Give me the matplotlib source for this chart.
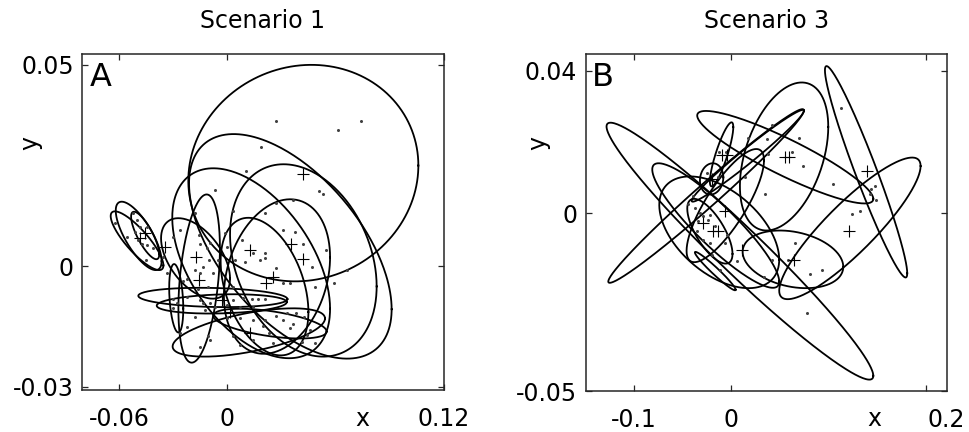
import matplotlib
matplotlib.use("Agg")
import matplotlib.pyplot as plt
import matplotlib.transforms as mtransforms
import numpy as np

plt.rcParams['font.family'] = ['DejaVu Sans']

# ---- Scenario 1 (panel A) ----
# ellipses: centre x, centre y, sd x, sd y, correlation
a_cx = [0.0421, 0.0349, 0.0132, 0.0421, 0.0275, 0.0206, -0.0156, -0.0176, -0.0283,
        -0.0491, -0.0500, -0.0455, -0.0080, -0.0031, 0.0119, 0.0236]
a_cy = [0.0231, 0.0049, 0.0007, 0.0014, -0.0026, -0.0051, -0.0031, 0.0019, -0.0080,
        0.0075, 0.0063, 0.0076, -0.0078, -0.0094, -0.0165, -0.0143]
a_sx = [0.0637, 0.0561, 0.0437, 0.0406, 0.0294, 0.0243, 0.0115, 0.0191, 0.0039,
        0.0127, 0.0146, 0.0078, 0.0413, 0.0360, 0.0422, 0.0314]
a_sy = [0.0269, 0.0279, 0.0236, 0.0239, 0.0192, 0.0171, 0.0209, 0.0100, 0.0085,
        0.0085, 0.0073, 0.0059, 0.0024, 0.0024, 0.0060, 0.0037]
a_rho = [0.07, -0.56, -0.48, -0.27, 0.25, -0.37, 0.36, -0.5, -0.3,
         -0.74, -0.84, -0.79, -0.17, 0.18, 0.58, -0.53]

# component means
a_mx = [0.0421, -0.0456, -0.0345, -0.0484, -0.0174, -0.0157, 0.0126, 0.0351, 0.0421,
        0.0251, 0.0212, 0.0015, -0.0031, 0.0126]
a_my = [0.0229, 0.0081, 0.0048, 0.0069, 0.0023, -0.0035, 0.0040, 0.0056, 0.0017,
        -0.0027, -0.0041, -0.0114, -0.0085, -0.0166]

# observations
a_px = [0.0270, 0.0615, 0.0741, 0.0187, 0.0103, -0.0068, 0.0510, 0.0528, 0.0270, 0.0362,
        0.0209, 0.0033, -0.0179, -0.0622, -0.0521, -0.0502, -0.0484, -0.0558, -0.0512, -0.0447,
        -0.0493, -0.0475, -0.0447, -0.0410, -0.0453, -0.0355, -0.0262, -0.0299, -0.0151, -0.0096,
        -0.0115, -0.0155, -0.0013, -0.0004, 0.0079, 0.0209, 0.0209, 0.0144, 0.0310, 0.0375,
        0.0417, 0.0547, 0.0467, 0.0661, 0.0593, 0.0486, 0.0347, 0.0307, 0.0270, 0.0181,
        0.0098, 0.0042, -0.0050, -0.0100, -0.0133, -0.0179, -0.0225, -0.0247, -0.0151, -0.0161,
        -0.0105, -0.0299, -0.0281, -0.0151, -0.0133, -0.0096, -0.0124, -0.0299, -0.0068, -0.0004,
        0.0033, 0.0085, 0.0135, 0.0172, 0.0209, 0.0070, 0.0144, -0.0179, -0.0004, 0.0070,
        0.0144, 0.0209, 0.0270, 0.0329, 0.0380, 0.0425, 0.0310, 0.0366, 0.0199, 0.0033,
        0.0233, 0.0347, 0.0458, 0.0440, -0.0105, -0.0096, 0.0144, 0.0255, 0.0412, 0.0486,
        0.0070, -0.0151, -0.0225, -0.0262, -0.0336, -0.0225, 0.0033, -0.0078]
a_py = [0.0361, 0.0337, 0.0361, 0.0295, 0.0237, 0.0189, 0.0187, 0.0179, 0.0156, 0.0164,
        0.0131, 0.0138, 0.0133, 0.0106, 0.0131, 0.0114, 0.0098, 0.0073, 0.0085, 0.0098,
        0.0065, 0.0056, 0.0052, 0.0044, 0.0015, 0.0023, 0.0090, 0.0073, 0.0056, 0.0058,
        0.0044, 0.0077, 0.0081, 0.0048, 0.0065, 0.0032, 0.0019, 0.0032, 0.0090, 0.0085,
        0.0055, 0.0040, -0.0002, -0.0010, -0.0041, -0.0051, -0.0041, -0.0041, -0.0004, 0.0015,
        0.0011, 0.0015, 0.0015, 0.0015, -0.0002, -0.0010, -0.0031, -0.0036, -0.0018, -0.0056,
        -0.0051, -0.0083, -0.0093, -0.0085, -0.0093, -0.0093, -0.0109, -0.0105, -0.0101, -0.0097,
        -0.0085, -0.0080, -0.0083, -0.0083, -0.0083, -0.0101, -0.0101, -0.0126, -0.0130, -0.0130,
        -0.0134, -0.0133, -0.0124, -0.0116, -0.0116, -0.0126, -0.0134, -0.0143, -0.0149, -0.0174,
        -0.0167, -0.0155, -0.0159, -0.0172, -0.0174, -0.0184, -0.0184, -0.0191, -0.0188, -0.0192,
        -0.0196, -0.0201, -0.0151, -0.0167, -0.0018, -0.0076, -0.0051, -0.0018]

# ---- Scenario 3 (panel B) ----
b_cx = [0.0087, -0.0161, -0.0125, -0.0260, 0.0168, 0.0540, 0.0552, 0.1381, 0.1215,
        0.0631, -0.0063, -0.0203, -0.0101, -0.0221, -0.0166]
b_cy = [-0.0107, -0.0035, -0.0054, 0.0048, 0.0161, 0.0159, 0.0157, 0.0116, -0.0043,
        -0.0130, 0.0021, 0.0096, 0.0165, -0.0051, -0.0163]
b_sx = [0.1368, 0.0651, 0.0615, 0.1003, 0.0576, 0.0453, 0.0903, 0.0422, 0.0725,
        0.0516, 0.0397, 0.0120, 0.0120, 0.0232, 0.0209]
b_sy = [0.0361, 0.0175, 0.0157, 0.0244, 0.0129, 0.0208, 0.0130, 0.0297, 0.0199,
        0.0081, 0.0159, 0.0044, 0.0090, 0.0091, 0.0054]
b_rho = [-0.97, -0.9, -0.49, 0.985, 0.98, 0.40, -0.9, -0.96, 0.88,
         -0.26, 0.8, 0.1, 0.85, -0.7, -0.97]

b_mx = [0.0549, 0.0590, 0.1393, -0.0101, -0.0050, -0.0203, -0.0067, -0.0289, -0.0186,
        -0.0142, 0.0111, 0.0641, 0.1205]
b_my = [0.0157, 0.0157, 0.0119, 0.0164, 0.0164, 0.0095, 0.0007, -0.0028, -0.0050,
        -0.0050, -0.0105, -0.0133, -0.0050]

b_px = [0.1120, 0.0412, 0.0173, 0.0368, 0.0692, 0.0617, 0.0737, 0.0378, 0.0138, -0.0125,
        -0.0056, -0.0255, -0.0135, -0.0443, -0.0374, -0.0323, -0.0289, -0.0238, -0.0221, -0.0340,
        -0.0169, -0.0050, -0.0221, -0.0067, 0.0344, 0.1044, 0.1239, 0.1318, 0.1431, 0.1472,
        0.1482, 0.1421, 0.0651, 0.0412, 0.0583, 0.0805, 0.0925, 0.0333, 0.0053, 0.0771,
        -0.0203, -0.0118, -0.0289, -0.0350, -0.0398]
b_py = [0.0295, 0.0248, 0.0210, 0.0208, 0.0212, 0.0173, 0.0131, 0.0166, 0.0101, 0.0173,
        0.0173, 0.0112, 0.0101, 0.0026, 0.0014, 0.0000, -0.0009, -0.0019, -0.0005, -0.0023,
        -0.0037, -0.0061, -0.0084, -0.0084, 0.0054, 0.0082, -0.0002, 0.0007, 0.0067, 0.0075,
        0.0036, 0.0054, -0.0084, -0.0133, -0.0133, -0.0170, -0.0159, -0.0180, -0.0136, -0.0281,
        -0.0117, -0.0159, -0.0075, -0.0050, 0.0047]


def draw_ellipses(ax, cx, cy, sx, sy, rho):
    t = np.linspace(0, 2 * np.pi, 300)
    for i in range(len(cx)):
        x = cx[i] + sx[i] * np.cos(t)
        y = cy[i] + sy[i] * (rho[i] * np.cos(t) + np.sqrt(1 - rho[i] ** 2) * np.sin(t))
        ax.plot(x, y, color='k', lw=1.3)


def style(ax, xlim, ylim, xt, yt, xtl, ytl):
    ax.set_xlim(xlim)
    ax.set_ylim(ylim)
    ax.set_xticks(xt)
    ax.set_yticks(yt)
    ax.set_xticklabels(xtl)
    ax.set_yticklabels(ytl)
    ax.tick_params(direction='in', top=True, right=True, length=4, width=0.9,
                   color='#262626', labelsize=17)
    ax.tick_params(axis='x', pad=12)
    ax.tick_params(axis='y', pad=6)
    for s in ax.spines.values():
        s.set_linewidth(1.1)
        s.set_color('#262626')


fig = plt.figure(figsize=(9.69, 4.32), dpi=100)
ax1 = fig.add_axes([0.0846, 0.0972, 0.3736, 0.7778])
ax2 = fig.add_axes([0.6044, 0.0949, 0.3725, 0.7801])

draw_ellipses(ax1, a_cx, a_cy, a_sx, a_sy, a_rho)
ax1.plot(a_px, a_py, 'o', color='#404040', ms=2.2, mew=0)
ax1.plot(a_mx, a_my, '+', color='k', ms=9, mew=0.8)
style(ax1, (-0.0805, 0.12), (-0.0308, 0.0527), [-0.06, 0, 0.12], [-0.03, 0, 0.05],
      ['-0.06', '0', '0.12'], ['-0.03', '0', '0.05'])
ax1.set_title('Scenario 1', fontsize=17, pad=19)
ax1.text(0.022, 0.976, 'A', transform=ax1.transAxes, fontsize=23, va='top', ha='left')
ax1.text(0.773, -0.107, 'x', transform=ax1.transAxes, fontsize=17, ha='center', va='baseline')
ax1.text(-0.144, 0.735, 'y', transform=ax1.transAxes, fontsize=17, ha='center', va='center',
         rotation=90)

draw_ellipses(ax2, b_cx, b_cy, b_sx, b_sy, b_rho)
ax2.plot(b_px, b_py, 'o', color='#404040', ms=2.2, mew=0)
ax2.plot(b_mx, b_my, '+', color='k', ms=9, mew=0.8)
style(ax2, (-0.1495, 0.2207), (-0.05, 0.0447), [-0.1, 0, 0.2], [-0.05, 0, 0.04],
      ['-0.1', '0', '0.2'], ['-0.05', '0', '0.04'])
# the last x label sits to the right of its tick in the reference
last = ax2.get_xticklabels()[-1]
last.set_transform(last.get_transform()
                   + mtransforms.ScaledTranslation(0.2, 0, fig.dpi_scale_trans))
ax2.set_title('Scenario 3', fontsize=17, pad=19)
ax2.text(0.018, 0.976, 'B', transform=ax2.transAxes, fontsize=23, va='top', ha='left')
ax2.text(0.801, -0.104, 'x', transform=ax2.transAxes, fontsize=17, ha='center', va='baseline')
ax2.text(-0.132, 0.736, 'y', transform=ax2.transAxes, fontsize=17, ha='center', va='center',
         rotation=90)

fig.savefig('out.png', dpi=100)
